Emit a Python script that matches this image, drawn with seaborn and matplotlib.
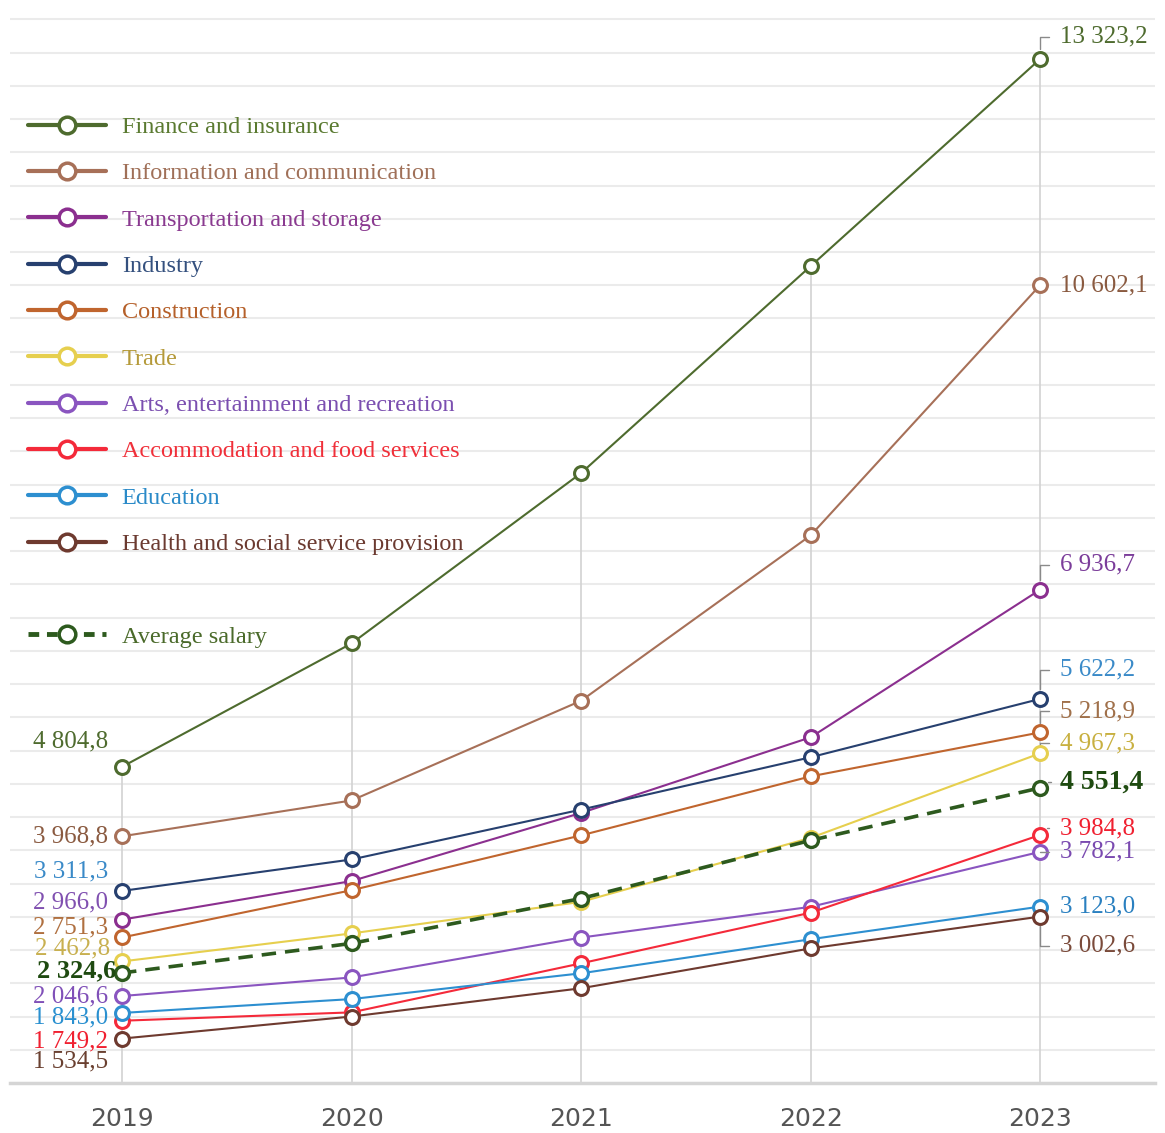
import numpy as np
import matplotlib.pyplot as plt
from matplotlib.lines import Line2D
import seaborn as sns

years = [2019, 2020, 2021, 2022, 2023]

finance = [4804.8, 6290, 8340, 10830, 13323.2]
info = [3968.8, 4400, 5600, 7590, 10602.1]
transport = [2966.0, 3430, 4250, 5160, 6936.7]
industry = [3311.3, 3690, 4290, 4920, 5622.2]
construction = [2751.3, 3320, 3980, 4690, 5218.9]
trade = [2462.8, 2800, 3180, 3950, 4967.3]
arts = [2046.6, 2270, 2750, 3120, 3782.1]
accommodation = [1749.2, 1850, 2440, 3050, 3984.8]
education = [1843.0, 2010, 2320, 2730, 3123.0]
health = [1534.5, 1800, 2140, 2620, 3002.6]
average = [2324.6, 2680, 3220, 3920, 4551.4]

names = ['Finance and insurance', 'Information and communication', 'Transportation and storage',
         'Industry', 'Construction', 'Trade', 'Arts, entertainment and recreation',
         'Accommodation and food services', 'Education', 'Health and social service provision']
series = [finance, info, transport, industry, construction, trade, arts,
          accommodation, education, health]

# line colours / legend text colours
line_colors = ['#4e6b2e', '#a77058', '#8b2f8f', '#27406f', '#c0652e', '#e6cf4e',
               '#8a55c0', '#f42a3a', '#2d8fd0', '#6e3a2f']
text_colors = ['#5a7a30', '#a07058', '#8a3a90', '#34507e', '#b5602a', '#b59a3a',
               '#7b4fb0', '#f0303a', '#2a8ac8', '#6b3a30']
avg_color = '#2d5a1e'

# label styling: (colour, dx px, dy px) for first and last year
left_lbl = [('#4e6b2e', -14, 25), ('#8a5a40', -14, 0), ('#8050b0', -14, 17), ('#3a8ac8', -14, 19),
            ('#b07040', -14, 10), ('#c8b050', -12, 13), ('#8050b8', -14, 0), ('#f02030', -14, -21),
            ('#2a90d0', -14, -5), ('#6a4030', -14, -23)]
right_lbl = [('#4e6b2e', 20, 22, True), ('#8a5a40', 20, 0, False), ('#7b3d9a', 20, 25, True),
             ('#3a8ac8', 20, 29, True), ('#a0704a', 20, 21, True), ('#c8b040', 20, 10, True),
             ('#7a4ab0', 20, 0, True), ('#f02030', 20, 7, True), ('#2a80c0', 20, 0, False),
             ('#7a4a3a', 20, -29, True)]

sns.set_style('white')
plt.rcParams['font.family'] = ['Liberation Serif', 'DejaVu Serif']

fig = plt.figure(figsize=(11.65, 11.33), dpi=100)
ax = fig.add_axes([10 / 1165, 50 / 1133, 1145 / 1165, 1073 / 1133])


def fmt(v):
    return f'{v:,.1f}'.replace(',', ' ').replace('.', ',')


ax.vlines(years, 1000, finance, color='#d2d2d2', lw=1.2, zorder=1)

for vals, c, n in zip(series, line_colors, names):
    sns.lineplot(x=years, y=vals, color=c, lw=1.5, marker='o', markersize=10,
                 markerfacecolor='white', markeredgecolor=c, markeredgewidth=2.2,
                 ax=ax, legend=False, zorder=3)
sns.lineplot(x=years, y=average, color=avg_color, lw=2.6, linestyle=(0, (4, 2.5)), marker='o',
             markersize=10, markerfacecolor='white', markeredgecolor=avg_color,
             markeredgewidth=2.4, ax=ax, legend=False, zorder=4)

for vals, (c, dx, dy) in zip(series, left_lbl):
    ax.annotate(fmt(vals[0]), (years[0], vals[0]), xytext=(dx, dy), textcoords='offset pixels',
                ha='right', va='center', fontsize=18, color=c, zorder=5)
ax.annotate(fmt(average[0]), (years[0], average[0]), xytext=(-6, 2), textcoords='offset pixels',
            ha='right', va='center', fontsize=19, fontweight='bold', color='#1e4a10', zorder=5)

for vals, (c, dx, dy, br) in zip(series, right_lbl):
    ap = dict(arrowstyle='-', color='#8a8a8a', lw=1.0, shrinkA=6, shrinkB=7,
              connectionstyle='angle,angleA=0,angleB=90,rad=0') if br else None
    ax.annotate(fmt(vals[-1]), (years[-1], vals[-1]), xytext=(dx, dy), textcoords='offset pixels',
                ha='left', va='center', fontsize=18, color=c, arrowprops=ap, zorder=5)
ax.annotate(fmt(average[-1]), (years[-1], average[-1]), xytext=(20, 6), textcoords='offset pixels',
            ha='left', va='center', fontsize=20, fontweight='bold', color='#1e4a10',
            arrowprops=dict(arrowstyle='-', color='#8a8a8a', lw=1.0, shrinkA=4, shrinkB=7,
                            connectionstyle='angle,angleA=0,angleB=90,rad=0'), zorder=5)

ax.set_xlim(2018.512, 2023.50)
ax.set_ylim(1000, 1000 + 1073 / 0.0831)
ax.set_yticks(np.arange(1000, 14000, 400))
ax.yaxis.grid(True, color='#ebebeb', lw=1.5)
ax.xaxis.grid(False)
ax.set_axisbelow(True)
ax.tick_params(axis='y', length=0, labelleft=False)
ax.set_xticks(years)
ax.set_xticklabels([str(y) for y in years], fontsize=18, color='#555555', family='DejaVu Sans')
ax.tick_params(axis='x', length=0, pad=17)
for s in ['top', 'right', 'left']:
    ax.spines[s].set_visible(False)
ax.spines['bottom'].set_color('#d5d5d5')
ax.spines['bottom'].set_linewidth(2.5)

handles = []
for c in line_colors:
    handles.append(Line2D([], [], color=c, lw=3, marker='o', markersize=12, markerfacecolor='white',
                          markeredgecolor=c, markeredgewidth=2.5))
handles.append(Line2D([], [], alpha=0))
handles.append(Line2D([], [], color=avg_color, lw=3.5, linestyle=(0, (2.2, 1.6)), marker='o',
                      markersize=12, markerfacecolor='white', markeredgecolor=avg_color,
                      markeredgewidth=2.5))
labels = names + [' ', 'Average salary']
lcolors = text_colors + ['white', '#4a6a2a']
leg = ax.legend(handles, labels, loc='upper left', bbox_to_anchor=(16 / 1165, 1 - 104 / 1133),
                bbox_transform=fig.transFigure, frameon=False, fontsize=17.5, labelcolor=lcolors,
                handlelength=3.2, handletextpad=0.65, labelspacing=1.0, borderpad=0)

fig.savefig('out.png', dpi=100)
